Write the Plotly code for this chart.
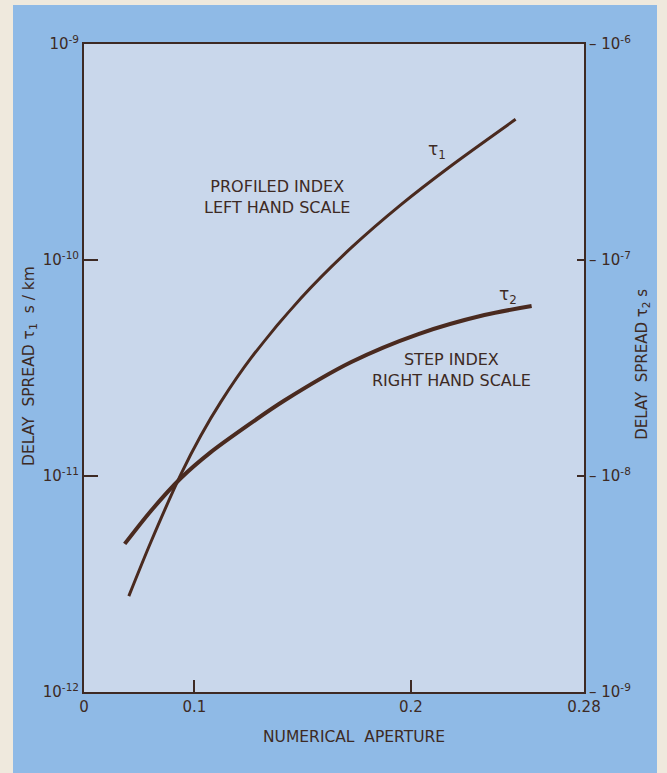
import plotly.graph_objects as go

# ---- data ----
na_tau1 = [0.0697, 0.0799, 0.0938, 0.1030, 0.1123, 0.1262, 0.1493, 0.1725, 0.1956, 0.2188, 0.2484]
tau1 = [2.78e-12, 4.95e-12, 1.02e-11, 1.54e-11, 2.21e-11, 3.52e-11, 6.67e-11, 1.14e-10, 1.81e-10, 2.74e-10, 4.48e-10]

na_tau2 = [0.0678, 0.0799, 0.0938, 0.1076, 0.1248, 0.1414, 0.1725, 0.2035, 0.2340, 0.2558]
tau2 = [4.85e-9, 6.89e-9, 9.79e-9, 1.29e-8, 1.72e-8, 2.23e-8, 3.37e-8, 4.54e-8, 5.56e-8, 6.12e-8]

x_tick_vals = [0.049, 0.1, 0.2, 0.28]
x_tick_text = ["0", "0.1", "0.2", "0.28"]
y1_tick_vals = [1e-12, 1e-11, 1e-10, 1e-9]
y1_tick_text = ["10<sup>-12</sup>", "10<sup>-11</sup>", "10<sup>-10</sup>", "10<sup>-9</sup>"]
y2_tick_vals = [1e-9, 1e-8, 1e-7, 1e-6]
y2_tick_text = ["– 10<sup>-9</sup>", "– 10<sup>-8</sup>", "– 10<sup>-7</sup>", "– 10<sup>-6</sup>"]

INK = "#3d2a24"
CURVE = "#4a2a1f"
FONT = "DejaVu Sans"

fig = go.Figure()
fig.add_trace(go.Scatter(x=na_tau1, y=tau1, mode="lines", yaxis="y",
                         line=dict(color=CURVE, width=3, shape="spline", smoothing=0.8),
                         showlegend=False))
fig.add_trace(go.Scatter(x=na_tau2, y=tau2, mode="lines", yaxis="y2",
                         line=dict(color=CURVE, width=4, shape="spline", smoothing=0.8),
                         showlegend=False))

axis_common = dict(showgrid=False, zeroline=False, showline=True, linecolor=INK, linewidth=2,
                   tickcolor=INK, tickwidth=1.5, tickfont=dict(family=FONT, size=15, color=INK))


def note(text, x, y, size, angle=0):
    return dict(text=text, xref="paper", yref="paper", x=x, y=y, xanchor="center",
                yanchor="middle", textangle=angle, showarrow=False, align="center",
                font=dict(size=size, color=INK, family=FONT))


fig.update_layout(
    width=667, height=773,
    margin=dict(l=84, r=83, t=44, b=81),
    paper_bgcolor="#efe9dd",
    plot_bgcolor="rgba(0,0,0,0)",
    font=dict(family=FONT, color=INK),
    xaxis=dict(range=[0.049, 0.28], tickmode="array", tickvals=x_tick_vals, ticktext=x_tick_text,
               ticks="inside", ticklen=12, mirror=True, **axis_common),
    yaxis=dict(type="log", range=[-12, -9], tickmode="array", tickvals=y1_tick_vals,
               ticktext=y1_tick_text, ticks="inside", ticklen=14, side="left", **axis_common),
    yaxis2=dict(type="log", range=[-9, -6], tickmode="array", tickvals=y2_tick_vals,
                ticktext=y2_tick_text, ticks="inside", ticklen=7, side="right",
                overlaying="y", **axis_common),
    shapes=[
        dict(type="rect", xref="paper", yref="paper", x0=-0.142, x1=1.146, y0=-0.14, y1=1.060,
             fillcolor="#8fbae6", line=dict(width=0), layer="below"),
        dict(type="rect", xref="paper", yref="paper", x0=0, x1=1, y0=0, y1=1,
             fillcolor="#c9d7eb", line=dict(width=0), layer="below"),
    ],
    annotations=[
        note("PROFILED INDEX<br>LEFT HAND SCALE", 0.386, 0.764, 16),
        note("STEP INDEX<br>RIGHT HAND SCALE", 0.735, 0.497, 16),
        note("τ<sub>1</sub>", 0.705, 0.835, 17),
        note("τ<sub>2</sub>", 0.848, 0.612, 17),
        note("DELAY  SPREAD τ<sub>1</sub>  s / km", -0.108, 0.503, 15.5, -90),
        note("DELAY  SPREAD τ<sub>2</sub> s", 1.118, 0.505, 15, -90),
        note("NUMERICAL  APERTURE", 0.54, -0.069, 15.5),
    ],
)

fig.write_html("out.html", config={"displayModeBar": False},
               post_script="document.body.style.margin='0';")
